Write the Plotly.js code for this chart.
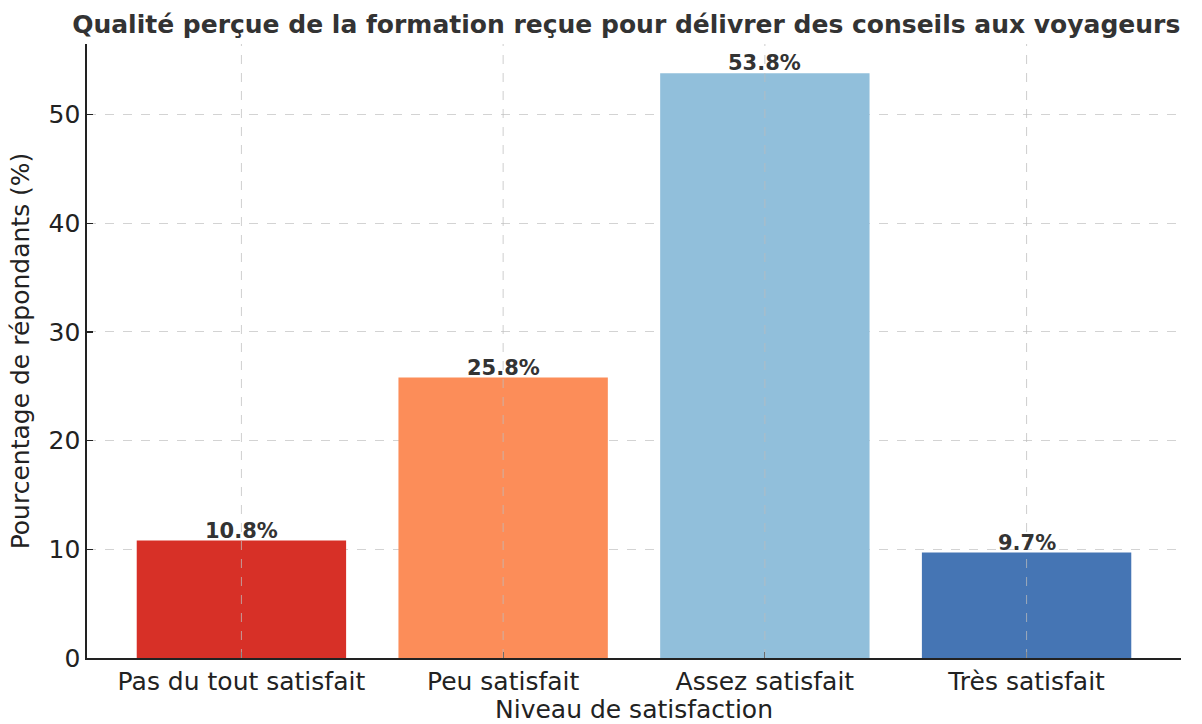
<!DOCTYPE html>
<html>
<head>
<meta charset="utf-8">
<script src="https://cdn.plot.ly/plotly-3.0.1.min.js"></script>
<style>html,body{margin:0;padding:0;background:#fff;}#chart{width:1202px;height:724px;}</style>
</head>
<body>
<div id="chart"></div>
<script>
const categories = ["Pas du tout satisfait", "Peu satisfait", "Assez satisfait", "Très satisfait"];
const values = [10.8, 25.8, 53.8, 9.7];
const barColors = ["#d73027", "#fc8d59", "#91bfdb", "#4575b4"];
const labels = values.map(v => v.toFixed(1) + "%");

const FONT = "DejaVu Sans, sans-serif";

const trace = {
  type: "bar",
  x: categories,
  y: values,
  marker: {color: barColors, line: {width: 0}},
  width: 0.8,
  hoverinfo: "skip"
};

const annotations = categories.map((c, i) => ({
  x: c, y: values[i], xref: "x", yref: "y",
  text: "<b>" + labels[i] + "</b>",
  showarrow: false, yanchor: "bottom", yshift: -4,
  font: {family: FONT, size: 21, color: "#333333"}
}));

const shapes = categories.map(c => ({
  type: "line", xref: "x", yref: "paper",
  x0: c, x1: c, y0: 0, y1: 1,
  line: {color: "rgba(190,190,190,0.75)", width: 1, dash: "dash"},
  layer: "above"
}));

const layout = {
  width: 1202, height: 724,
  margin: {l: 87, r: 21, t: 44, b: 66},
  paper_bgcolor: "#ffffff", plot_bgcolor: "#ffffff",
  showlegend: false,
  bargap: 0.2,
  title: {
    text: "<b>Qualité perçue de la formation reçue pour délivrer des conseils aux voyageurs</b>",
    font: {family: FONT, size: 25, color: "#333333"},
    x: 0.521, xanchor: "center", y: 0.966, yanchor: "middle"
  },
  xaxis: {
    type: "category",
    range: [-0.59, 3.59],
    showgrid: false,
    ticks: "inside", ticklen: 6, tickwidth: 1.2, tickcolor: "#222",
    showline: true, linecolor: "#222", linewidth: 1.6,
    tickfont: {family: FONT, size: 25, color: "#222"},
    title: {text: "Niveau de satisfaction", font: {family: FONT, size: 25, color: "#222"}, standoff: 6},
    zeroline: false
  },
  yaxis: {
    range: [0, 56.49],
    tickvals: [0, 10, 20, 30, 40, 50],
    showgrid: true, gridcolor: "#d3d3d3", griddash: "dash", gridwidth: 1,
    ticks: "inside", ticklen: 6, tickwidth: 1.2, tickcolor: "#222",
    showline: true, linecolor: "#222", linewidth: 1.6,
    tickfont: {family: FONT, size: 25, color: "#222"},
    title: {text: "Pourcentage de répondants (%)", font: {family: FONT, size: 25, color: "#222"}, standoff: 12},
    zeroline: false
  },
  annotations: annotations,
  shapes: shapes
};

Plotly.newPlot("chart", [trace], layout, {displayModeBar: false, staticPlot: true});
</script>
</body>
</html>
